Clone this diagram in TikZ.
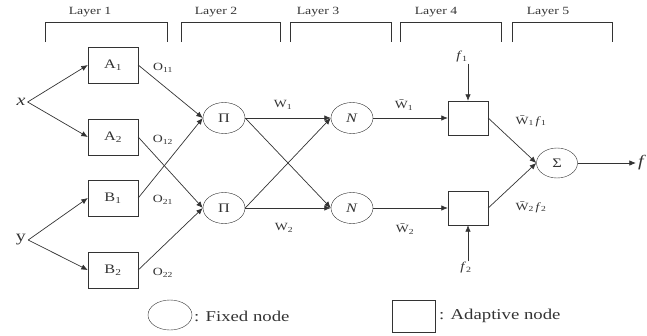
\documentclass[tikz,border=0pt]{standalone}
\usepackage{fontspec}
\setmainfont[FakeStretch=1.25]{Liberation Serif}
\usetikzlibrary{arrows.meta,shapes.geometric}
\definecolor{ink}{gray}{0.2}
\tikzset{
  fixed/.style={draw=ink, ellipse, minimum width=42pt, minimum height=31pt, inner sep=0pt, text=ink, font=\fontsize{13}{15}\selectfont},
  adapt/.style={draw=ink, rectangle, minimum width=50pt, minimum height=36pt, inner sep=0pt, text=ink, font=\fontsize{13}{15}\selectfont},
  adaptsm/.style={adapt, minimum width=40pt, minimum height=34pt},
  arr/.style={draw=ink, line width=0.7pt, -{Latex[length=6.5pt,width=5.5pt]}},
  lab/.style={text=ink, inner sep=1pt, font=\fontsize{11}{13}\selectfont},
  big/.style={text=ink, inner sep=2pt, font=\fontsize{16}{18}\selectfont},
  brk/.style={draw=ink, line width=0.7pt},
  leg/.style={text=ink, anchor=west, inner sep=0pt, font=\fontsize{15}{17}\selectfont}
}
\begin{document}
\begin{tikzpicture}[x=1pt,y=-1pt]
\useasboundingbox (0,0) rectangle (647,335);
% layer brackets
\draw[brk] (45,42) -- (45,22) -- (167,22) -- (167,42);
\draw[brk] (181,42) -- (181,22) -- (280,22) -- (280,42);
\draw[brk] (290,42) -- (290,22) -- (391,22) -- (391,42);
\draw[brk] (400,42) -- (400,22) -- (501,22) -- (501,42);
\draw[brk] (512,42) -- (512,22) -- (612,22) -- (612,42);
\node[lab] (L1) at (90,12) {Layer 1};
\node[lab] (L2) at (216,12) {Layer 2};
\node[lab] (L3) at (318,12) {Layer 3};
\node[lab] (L4) at (436,12) {Layer 4};
\node[lab] (L5) at (548,12) {Layer 5};
% inputs
\node[big] (xin) at (21,102) {\textit{x}};
\node[big] (yin) at (21,240) {y};
% layer 1
\node[adapt] (A1) at (113,65) {A\textsubscript{1}};
\node[adapt] (A2) at (113,137) {A\textsubscript{2}};
\node[adapt] (B1) at (113,198) {B\textsubscript{1}};
\node[adapt] (B2) at (113,270) {B\textsubscript{2}};
% layer 2
\node[fixed] (P1) at (224,118) {Π};
\node[fixed] (P2) at (224,208) {Π};
% layer 3
\node[fixed] (N1) at (352,118) {\textit{N}};
\node[fixed] (N2) at (352,208) {\textit{N}};
% layer 4
\node[adaptsm] (C1) at (468,118) {};
\node[adaptsm] (C2) at (468,208) {};
\node[lab, font=\fontsize{12}{14}\selectfont] (f1) at (462,57) {\textit{f}\textsubscript{1}};
\node[lab, font=\fontsize{12}{14}\selectfont] (f2) at (466,268) {\textit{f}\textsubscript{2}};
% layer 5
\node[fixed, minimum width=41pt, minimum height=30pt] (S) at (557,163) {Σ};
\node[big] (fout) at (642,163) {\textit{f}};
% connectors
\draw[arr] (xin.east) -- (A1.west);
\draw[arr] (xin.east) -- (A2.west);
\draw[arr] (yin.east) -- (B1.west);
\draw[arr] (yin.east) -- (B2.west);
\draw[arr] (A1.east) -- (P1.west);
\draw[arr] (B1.east) -- (P1.west);
\draw[arr] (A2.east) -- (P2.west);
\draw[arr] (B2.east) -- (P2.west);
\draw[arr] (P1.east) -- (N1.west);
\draw[arr] (P1.east) -- (N2.west);
\draw[arr] (P2.east) -- (N1.west);
\draw[arr] (P2.east) -- (N2.west);
\draw[arr] (N1.east) -- (C1.west);
\draw[arr] (N2.east) -- (C2.west);
\draw[arr] (C1.north |- f1.south) -- (C1.north);
\draw[arr] (C2.south |- f2.north) -- (C2.south);
\draw[arr] (C1.east) -- (S.west);
\draw[arr] (C2.east) -- (S.west);
\draw[arr] (S.east) -- (fout.west);
% labels
\node[lab] (o11) at (163,68) {O\textsubscript{11}};
\node[lab] (o12) at (163,140) {O\textsubscript{12}};
\node[lab] (o21) at (163,200) {O\textsubscript{21}};
\node[lab] (o22) at (163,273) {O\textsubscript{22}};
\node[lab] (w1) at (283,105) {W\textsubscript{1}};
\node[lab] (w2) at (284,228) {W\textsubscript{2}};
\node[lab] (nw1) at (404,105) {\={W}\textsubscript{1}};
\node[lab] (nw2) at (405,229) {\={W}\textsubscript{2}};
\node[lab] (wf1) at (531,121) {\={W}\textsubscript{1}\,\textit{f}\textsubscript{1}};
\node[lab] (wf2) at (531,207) {\={W}\textsubscript{2}\,\textit{f}\textsubscript{2}};
% legend
\node[fixed, minimum width=44pt, minimum height=30pt] (LC) at (170,315) {};
\node[leg] (LCt) at (194,316) {: Fixed node};
\node[adapt, minimum width=43pt, minimum height=32pt] (LS) at (414,316) {};
\node[leg] (LSt) at (439,316) {: Adaptive node};
\end{tikzpicture}
\end{document}
